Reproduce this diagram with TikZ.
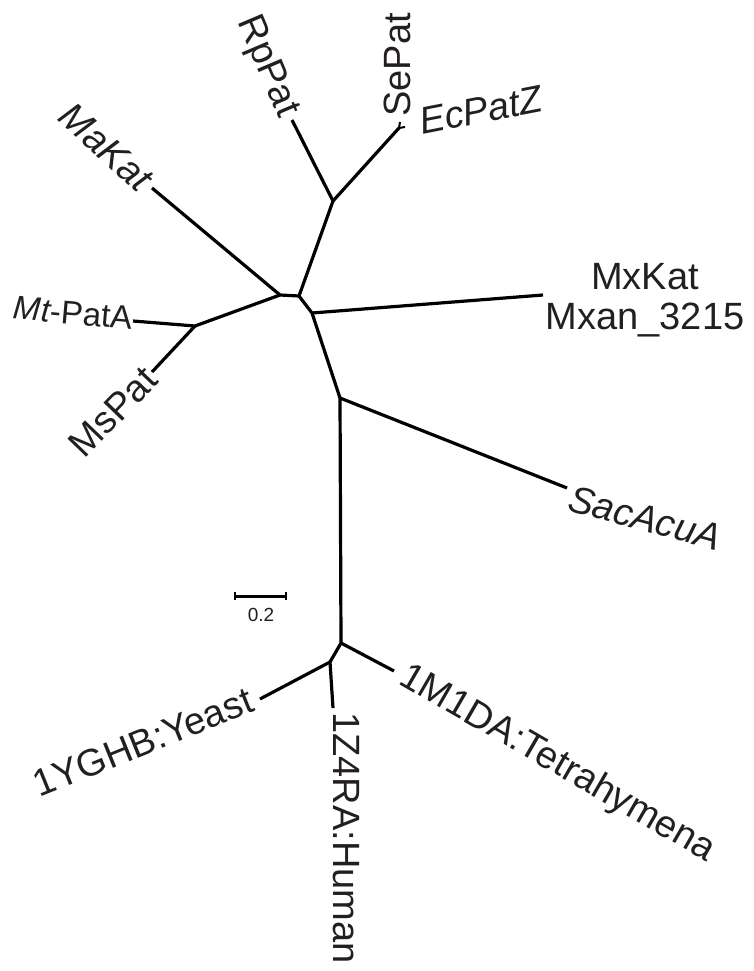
\documentclass[tikz,border=0pt]{standalone}
\usepackage{fontspec}
\setmainfont{Liberation Sans}
\definecolor{txt}{HTML}{231F20}
\begin{document}
\begin{tikzpicture}[x=1pt,y=-1pt,
  br/.style={line width=3.2pt, line join=round},
  lab/.style={font=\fontsize{38}{40}\selectfont, text=txt, inner sep=0pt},
  smalllab/.style={font=\fontsize{33}{36}\selectfont, text=txt, inner sep=0pt}]
\useasboundingbox (0,0) rectangle (753,971);
% internal nodes
\coordinate (A) at (280,295);
\coordinate (E) at (195,326);
\coordinate (B) at (299,296);
\coordinate (F) at (333,201);
\coordinate (SE) at (399,128);
\coordinate (C) at (312,313);
\coordinate (D) at (340,398);
\coordinate (G) at (341,643);
\coordinate (H) at (330,662);
% leaves
\coordinate (lMa) at (152,188);
\coordinate (lMt) at (133,321);
\coordinate (lMs) at (152,372);
\coordinate (lRp) at (292,120);
\coordinate (lSe) at (400,122);
\coordinate (lEc) at (405,127);
\coordinate (lMx) at (543,295);
\coordinate (lSac) at (567,488);
\coordinate (lTet) at (394,671);
\coordinate (lYe) at (260,699);
\coordinate (lHu) at (333,708);
% branches
\draw[br] (lMa) -- (A) -- (B) -- (C) -- (D) -- (G) -- (H) -- (lYe);
\draw[br] (A) -- (E) -- (lMt);
\draw[br] (E) -- (lMs);
\draw[br] (B) -- (F) -- (lRp);
\draw[br] (F) -- (SE);
\draw[line width=2pt] (SE) -- (lSe);
\draw[line width=2pt] (SE) -- (lEc);
\draw[br] (C) -- (lMx);
\draw[br] (D) -- (lSac);
\draw[br] (G) -- (lTet);
\draw[br] (H) -- (lHu);
% labels
\node[lab, rotate=-67] (tRp) at (267,67) {RpPat};
\node[lab, rotate=90] (tSe) at (397,65) {SePat};
\node[lab, rotate=11] (tEc) at (481,110) {\itshape EcPatZ};
\node[lab, rotate=-42] (tMa) at (106,147) {\itshape MaKat};
\node[smalllab, rotate=-5] (tMt) at (73,313) {\itshape Mt\upshape-PatA};
\node[lab, rotate=46] (tMs) at (113,412) {MsPat};
\node[lab, align=center] (tMx) at (645,300) {MxKat\\Mxan\_3215};
\node[lab, rotate=-15] (tSac) at (645,518) {\itshape SacAcuA};
\node[lab, rotate=-30] (tTet) at (557,764) {1M1DA:Tetrahymena};
\node[lab, rotate=-90, anchor=west] (tHu) at (346,712) {1Z4RA:Human};
\node[lab, rotate=22] (tYe) at (143,742) {1YGHB:Yeast};
% scale bar
\coordinate (s1) at (235,596);
\coordinate (s2) at (286,596);
\draw[line width=3pt] (s1) -- (s2);
\draw[line width=2pt] ([yshift=-4pt]s1) -- ([yshift=4pt]s1);
\draw[line width=2pt] ([yshift=-4pt]s2) -- ([yshift=4pt]s2);
\node[font=\fontsize{19}{20}\selectfont, text=txt, inner sep=0pt] (scl) at (261,615) {0.2};
\end{tikzpicture}
\end{document}
